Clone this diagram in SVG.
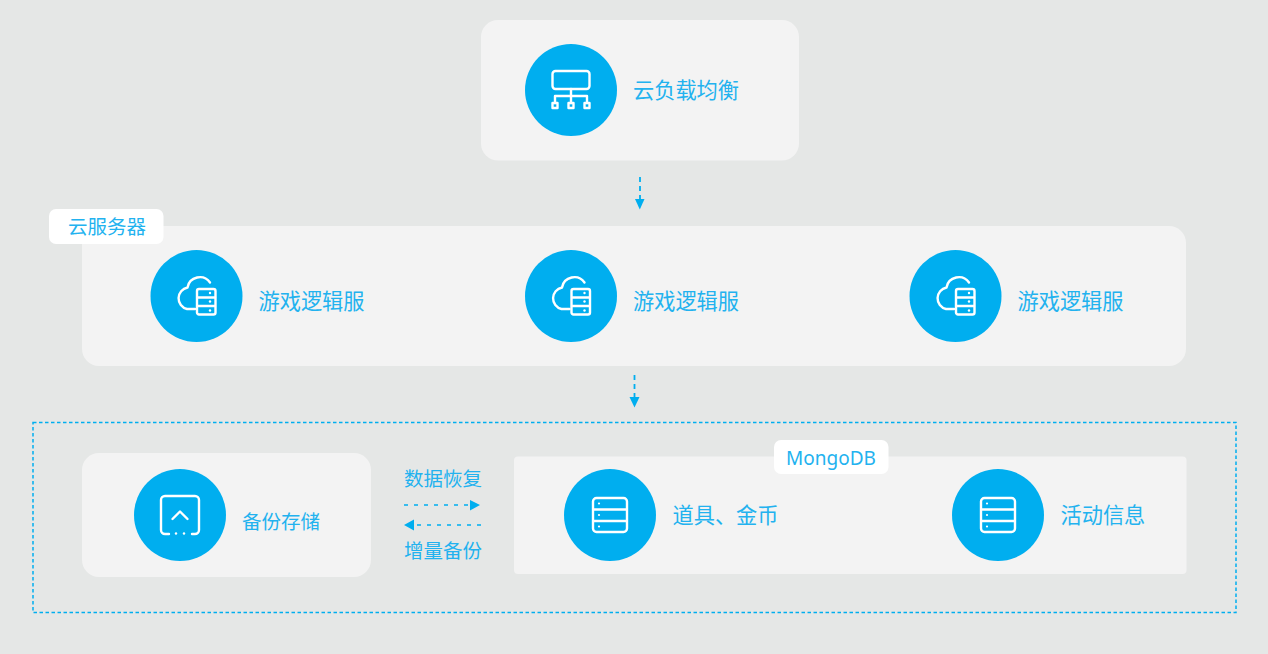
<svg xmlns="http://www.w3.org/2000/svg" width="1268" height="654" viewBox="0 0 1268 654">
<style>
.p{fill:#f3f3f3}
.c{fill:#00aeef}
.i{fill:none;stroke:#fff;stroke-width:2.400;stroke-linecap:round;stroke-linejoin:round}
.d{fill:#fff}
text{font-family:"Noto Sans CJK SC","Noto Sans",sans-serif;font-weight:400;fill:#22b2ef;font-size:21.200px}
.s{font-size:19.500px}
.l{fill:none;stroke:#00aeef;stroke-width:1.600;stroke-dasharray:4 6}
.v{fill:none;stroke:#00aeef;stroke-width:1.800;stroke-dasharray:5 4}
.a{fill:#00aeef}
</style>
<defs>
<g id="cloud"><path class="i" d="M14-14A12.500 12.500 0 0 0-8.500-9A11 11 0 0 0-9 12.500H-1"/><rect class="i" x="1" y="-7.500" width="18.500" height="25.500" rx="2"/><path class="i" d="M2 1H19M2 9.500H19"/><circle class="d" cx="14" cy="-3.500" r="1.200"/><circle class="d" cx="14" cy="5" r="1.200"/><circle class="d" cx="14" cy="14" r="1.200"/></g>
<g id="db"><rect class="i" x="-17" y="-17" width="34" height="34" rx="3.500"/><path class="i" d="M-16-5.500H16M-16 6H16"/><circle class="d" cx="-11" cy="-11.500" r="1.100"/><circle class="d" cx="-11" cy="0" r="1.100"/><circle class="d" cx="-11" cy="11.500" r="1.100"/></g>
</defs>
<rect width="1268" height="654" fill="#e5e7e6"/>
<g id="connectors">
<path class="v" d="M640 177V199"/><path class="a" d="M635 199H644.500L639.800 209.500Z"/>
<path class="v" d="M634.500 375V397"/><path class="a" d="M629.500 397H639.500L634.500 407.500Z"/>
<path class="l" d="M404 505H470"/><path class="a" d="M470 500L480 505L470 510.500Z"/>
<path class="l" d="M481 525H414"/><path class="a" d="M414 519.500L404 525L414 530.500Z"/>
<rect x="33" y="422.500" width="1203" height="190" fill="none" stroke="#00aeef" stroke-width="1.500" stroke-dasharray="3.500 2.500"/>
</g>
<g id="load-balancer">
<rect class="p" x="481" y="20" width="318" height="140.500" rx="17"/>
<circle class="c" cx="571" cy="90" r="46"/>
<rect class="i" x="552.500" y="71" width="37" height="18" rx="3"/>
<path class="i" d="M571 89V96M555 103V96H587V103M571 96V103"/>
<rect class="i" x="552.500" y="103" width="5" height="5"/><rect class="i" x="568.500" y="103" width="5" height="5"/><rect class="i" x="584.500" y="103" width="5" height="5"/>
<text x="633" y="98">云负载均衡</text>
</g>
<g id="cloud-servers">
<rect class="p" x="82" y="226" width="1104" height="140" rx="17"/>
<rect class="d" x="49" y="209" width="114.500" height="35" rx="7"/>
<text class="s" x="68" y="234">云服务器</text>
</g>
<g id="logic-1"><circle class="c" cx="196.500" cy="296" r="46"/><use href="#cloud" x="196" y="296.500"/><text x="258.500" y="309">游戏逻辑服</text></g>
<g id="logic-2"><circle class="c" cx="571" cy="296" r="46"/><use href="#cloud" x="570.500" y="296.500"/><text x="633" y="309">游戏逻辑服</text></g>
<g id="logic-3"><circle class="c" cx="955.500" cy="296" r="46"/><use href="#cloud" x="955" y="296.500"/><text x="1017.500" y="309">游戏逻辑服</text></g>
<g id="backup">
<rect class="p" x="82" y="453" width="289" height="124" rx="17"/>
<circle class="c" cx="180" cy="515" r="46"/>
<path class="i" d="M169 534H165A4 4 0 0 1 161 530V500A4 4 0 0 1 165 496H195A4 4 0 0 1 199 500V530A4 4 0 0 1 195 534H192"/>
<path class="i" d="M172.500 519L180 511.500L187.500 519"/>
<circle class="d" cx="176" cy="533.500" r="1.200"/><circle class="d" cx="184" cy="533.500" r="1.200"/>
<text class="s" x="242" y="528.500">备份存储</text>
</g>
<g id="sync-labels">
<text class="s" x="404" y="486">数据恢复</text>
<text class="s" x="404" y="558">增量备份</text>
</g>
<g id="mongodb">
<rect class="p" x="514" y="456.500" width="672.500" height="117.500" rx="4"/>
<rect class="d" x="774" y="440" width="114.500" height="34" rx="7"/>
<text x="786" y="465" style="font-family:'Noto Sans',sans-serif;font-size:19px">MongoDB</text>
</g>
<g id="items"><circle class="c" cx="610" cy="515" r="46"/><use href="#db" x="610" y="515"/><text x="672.500" y="523">道具、金币</text></g>
<g id="activity"><circle class="c" cx="998" cy="515" r="46"/><use href="#db" x="998" y="515"/><text x="1060.500" y="523">活动信息</text></g>
</svg>
